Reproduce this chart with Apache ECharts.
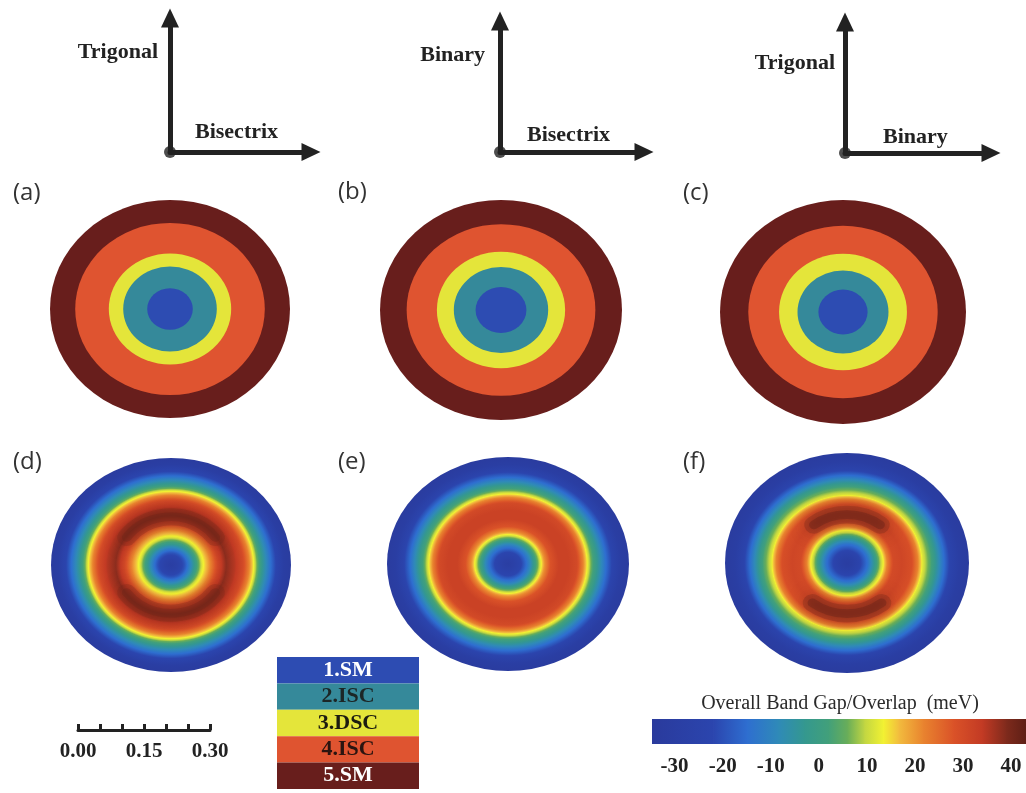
<!DOCTYPE html>
<html><head><meta charset="utf-8">
<script src="https://cdn.jsdelivr.net/npm/echarts@6/dist/echarts.min.js"></script>
<style>html,body{margin:0;padding:0;background:#fff}#c{width:1026px;height:793px}</style>
</head><body><div id="c"></div>
<script>
// ================= DATA =================
const CLASS_LABELS = ['1.SM', '2.ISC', '3.DSC', '4.ISC', '5.SM'];
const CLASS_COLORS = ['#2d4cb2', '#35899a', '#e4e53a', '#df5430', '#681e1c'];
const CLASS_TEXT   = ['#ffffff', '#1c2626', '#1c1c10', '#2a1410', '#ffffff'];

// top row: [outer radius (fraction of disc radius), class index]
const RINGS_A = [[1.00, 5], [0.79, 4], [0.51, 3], [0.39, 2], [0.19, 1]];
const RINGS_B = [[1.00, 5], [0.78, 4], [0.53, 3], [0.39, 2], [0.21, 1]];
const RINGS_C = [[1.00, 5], [0.77, 4], [0.52, 3], [0.37, 2], [0.20, 1]];

// bottom row radial profiles: [radius fraction, band gap/overlap (meV)], outer -> inner
const PROFILE_D = [[1.00,-33],[0.94,-30],[0.88,-23],[0.82,-13],[0.76,-3],[0.72,5],[0.69,13],[0.65,22],[0.60,30],[0.53,35],[0.46,38],[0.39,31],[0.33,22],[0.29,16],[0.26,12],[0.22,3],[0.17,-8],[0.11,-20],[0.05,-27],[0.00,-30]];
const PROFILE_E = [[1.00,-33],[0.93,-30],[0.87,-24],[0.81,-15],[0.75,-5],[0.70,3],[0.66,12],[0.62,22],[0.57,30],[0.50,32],[0.42,32],[0.35,28],[0.30,20],[0.27,12],[0.23,2],[0.18,-10],[0.11,-22],[0.04,-28],[0.00,-30]];
const PROFILE_F = [[1.00,-33],[0.92,-30],[0.85,-24],[0.79,-14],[0.73,-4],[0.68,4],[0.62,12],[0.58,22],[0.53,29],[0.45,31],[0.38,30],[0.33,22],[0.30,14],[0.27,8],[0.23,-2],[0.17,-14],[0.10,-24],[0.04,-29],[0.00,-31]];

// darker (higher-overlap) arcs: [start angle deg, end angle deg, radius fraction, value]
const HOT_D = [[35, 145, 0.45, 41], [215, 325, 0.45, 41]];
const HOT_F = [[52, 128, 0.44, 43], [232, 308, 0.46, 43]];

// colour bar
const CB_VALUES = [-35, -22, -15, -8.5, -3, 2, 6, 9.5, 13.4, 16.6, 21.5, 28, 34, 39, 44];
const CB_COLORS = ['#2a3a9c', '#2b45ae', '#2e6ed0', '#2f8ab8', '#34988f', '#42a07a', '#6aae58', '#c2d642', '#f2f232', '#f2bc3e', '#e9852f', '#da5228', '#c23a24', '#7e2a1c', '#561c14'];
const CB_TICKS = [-30, -20, -10, 0, 10, 20, 30, 40];
const CB_TITLE = 'Overall Band Gap/Overlap  (meV)';

// scale bar
const SCALE_MIN = 0, SCALE_MAX = 0.30, SCALE_STEP = 0.05, SCALE_LABEL_STEP = 0.15;

// axis diagrams
const DIAGRAM_LABELS = [['Trigonal', 'Bisectrix'], ['Binary', 'Bisectrix'], ['Trigonal', 'Binary']];
const PANEL_LABELS = ['(a)', '(b)', '(c)', '(d)', '(e)', '(f)'];

// ================= LAYOUT =================
const DISCS = [ // cx, cy, rx, ry
  [170, 309, 120, 109], [501, 310, 121, 110], [843, 312, 123, 112],
  [171, 565, 120, 107], [508, 564, 121, 107], [847, 563, 122, 110]
];
const PANEL_POS = [[13, 193], [338, 192], [683, 193], [13, 462], [338, 462], [683, 462]];
const DIAGRAMS = [ // origin x, origin y, axis end top y, axis end right x
  [170, 152, 18, 311], [500, 152, 21, 644], [845, 153, 22, 991]
];
const DIAGRAM_TEXT = [ // [vertical label right x, y], [horizontal label left x, y]
  [[158, 52], [195, 132]], [[485, 55], [527, 135]], [[835, 63], [883, 137]]
];

const SERIF = 'Liberation Serif';

// ================= HELPERS =================
function hexToRgb(h) { const n = parseInt(h.slice(1), 16); return [(n >> 16) & 255, (n >> 8) & 255, n & 255]; }
const CB_RGB = CB_COLORS.map(hexToRgb);
function rgbStr(a) { return 'rgb(' + a.map(v => Math.round(v)).join(',') + ')'; }
function cmap(v) {
  if (v <= CB_VALUES[0]) return rgbStr(CB_RGB[0]);
  for (let i = 0; i < CB_VALUES.length - 1; i++) {
    if (v <= CB_VALUES[i + 1]) {
      const t = (v - CB_VALUES[i]) / (CB_VALUES[i + 1] - CB_VALUES[i]);
      return rgbStr(CB_RGB[i].map((c, k) => c + (CB_RGB[i + 1][k] - c) * t));
    }
  }
  return rgbStr(CB_RGB[CB_RGB.length - 1]);
}
function profileStops(rn, vn, ro, vo) {
  const stops = [{ offset: rn / ro, color: cmap(vn) }];
  const lo = Math.min(vn, vo), hi = Math.max(vn, vo);
  const mids = CB_VALUES.filter(x => x > lo && x < hi)
    .map(x => ({ offset: (rn + (ro - rn) * (x - vn) / (vo - vn)) / ro, color: cmap(x) }));
  mids.sort((a, b) => a.offset - b.offset);
  return stops.concat(mids, [{ offset: 1, color: cmap(vo) }]);
}
function discFrame(api) {
  const c = api.coord([0, 0]);
  const rx = api.size([1, 0])[0], ry = api.size([0, 1])[1];
  return { c, rx, ry };
}

function ringSeries(rings, gi) {
  return {
    type: 'custom', coordinateSystem: 'cartesian2d', xAxisIndex: gi, yAxisIndex: gi,
    data: rings, silent: true,
    renderItem(params, api) {
      const f = discFrame(api);
      return {
        type: 'circle', shape: { cx: f.c[0], cy: f.c[1], r: api.value(0) * f.rx },
        originX: f.c[0], originY: f.c[1], scaleY: f.ry / f.rx,
        style: { fill: CLASS_COLORS[api.value(1) - 1] }
      };
    }
  };
}
function profileSeries(profile, gi) {
  return {
    type: 'custom', coordinateSystem: 'cartesian2d', xAxisIndex: gi, yAxisIndex: gi,
    data: profile, silent: true,
    renderItem(params, api) {
      const i = params.dataIndex;
      if (i >= profile.length - 1) return null;
      const ro = api.value(0), vo = api.value(1);
      const rn = profile[i + 1][0], vn = profile[i + 1][1];
      const f = discFrame(api);
      const R = ro * f.rx;
      return {
        type: 'circle', shape: { cx: f.c[0], cy: f.c[1], r: R },
        originX: f.c[0], originY: f.c[1], scaleY: f.ry / f.rx,
        style: { fill: new echarts.graphic.RadialGradient(f.c[0], f.c[1], R, profileStops(rn, vn, ro, vo), true) }
      };
    }
  };
}
function hotSeries(hot, gi) {
  return {
    type: 'custom', coordinateSystem: 'cartesian2d', xAxisIndex: gi, yAxisIndex: gi,
    data: hot, silent: true,
    renderItem(params, api) {
      const f = discFrame(api);
      const s = api.value(0), e = api.value(1), r = api.value(2) * f.rx, col = cmap(api.value(3));
      const shape = { cx: f.c[0], cy: f.c[1], r: r, startAngle: -e * Math.PI / 180, endAngle: -s * Math.PI / 180, clockwise: true };
      const base = { type: 'arc', shape: shape, originX: f.c[0], originY: f.c[1], scaleY: f.ry / f.rx };
      return {
        type: 'group',
        children: [
          Object.assign({}, base, { style: { stroke: col, fill: null, lineWidth: 0.16 * f.rx, lineCap: 'round', opacity: 0.25, shadowBlur: 16, shadowColor: col } }),
          Object.assign({}, base, { style: { stroke: col, fill: null, lineWidth: 0.08 * f.rx, lineCap: 'round', opacity: 0.35, shadowBlur: 10, shadowColor: col } })
        ]
      };
    }
  };
}

// ================= GRIDS / AXES =================
const grids = [], xAxes = [], yAxes = [], series = [];
function hiddenAxes(xmin, xmax, ymin, ymax) {
  const gi = grids.length - 1;
  xAxes.push({ gridIndex: gi, type: 'value', min: xmin, max: xmax, show: false });
  yAxes.push({ gridIndex: gi, type: 'value', min: ymin, max: ymax, show: false });
  return gi;
}
// discs 0..5
DISCS.forEach(d => { grids.push({ left: d[0] - d[2], top: d[1] - d[3], width: 2 * d[2], height: 2 * d[3] }); hiddenAxes(-1, 1, -1, 1); });
series.push(ringSeries(RINGS_A, 0), ringSeries(RINGS_B, 1), ringSeries(RINGS_C, 2));
series.push(profileSeries(PROFILE_D, 3), profileSeries(PROFILE_E, 4), profileSeries(PROFILE_F, 5));
series.push(hotSeries(HOT_D, 3), hotSeries(HOT_F, 5));

// axis diagrams 6..8
const arrowLine = {
  show: true, onZero: true, symbol: ['none', 'triangle'], symbolSize: [18, 19],
  lineStyle: { color: '#222', width: 5 }
};
DIAGRAMS.forEach(d => {
  grids.push({ left: d[0], top: d[2], width: d[3] - d[0], height: d[1] - d[2] });
  const gi = grids.length - 1;
  xAxes.push({ gridIndex: gi, type: 'value', min: 0, max: 1, axisLine: arrowLine, axisTick: { show: false }, axisLabel: { show: false }, splitLine: { show: false } });
  yAxes.push({ gridIndex: gi, type: 'value', min: 0, max: 1, axisLine: arrowLine, axisTick: { show: false }, axisLabel: { show: false }, splitLine: { show: false } });
  series.push({ type: 'scatter', xAxisIndex: gi, yAxisIndex: gi, data: [[0, 0]], symbolSize: 12, itemStyle: { color: '#222' }, silent: true, z: 5 });
});

// scale bar 9
grids.push({ left: 78, top: 690, width: 132, height: 40 });
{
  const gi = grids.length - 1;
  xAxes.push({
    gridIndex: gi, type: 'value', min: SCALE_MIN, max: SCALE_MAX, interval: SCALE_STEP,
    axisLine: { show: true, lineStyle: { color: '#222', width: 3 } },
    axisTick: { show: true, inside: true, length: 6, lineStyle: { color: '#222', width: 3 } },
    splitLine: { show: false },
    axisLabel: {
      show: true, margin: 11, showMinLabel: true, showMaxLabel: true,
      fontFamily: SERIF, fontWeight: 'bold', fontSize: 21, color: '#222',
      formatter: v => (Math.round(v * 100) % Math.round(SCALE_LABEL_STEP * 100) === 0 ? v.toFixed(2) : '')
    }
  });
  yAxes.push({ gridIndex: gi, type: 'value', min: 0, max: 1, show: false });
}

// colour bar 10
grids.push({ left: 652, top: 719, width: 380, height: 25 });
{
  const gi = grids.length - 1;
  xAxes.push({
    gridIndex: gi, type: 'value', min: -34.7, max: 43.1,
    axisLine: { show: false }, axisTick: { show: false }, splitLine: { show: false },
    axisLabel: { show: true, customValues: CB_TICKS, margin: 12, fontFamily: SERIF, fontWeight: 'bold', fontSize: 21, color: '#222' }
  });
  yAxes.push({ gridIndex: gi, type: 'value', min: 0, max: 1, show: false });
  series.push({
    type: 'custom', coordinateSystem: 'cartesian2d', xAxisIndex: gi, yAxisIndex: gi, clip: true, silent: true,
    data: CB_VALUES.map(v => [v, 0.5]),
    renderItem(params, api) {
      const i = params.dataIndex;
      if (i >= CB_VALUES.length - 1) return null;
      const p0 = api.coord([CB_VALUES[i], 1]), p1 = api.coord([CB_VALUES[i + 1], 0]);
      return {
        type: 'rect', shape: { x: p0[0], y: p0[1], width: p1[0] - p0[0] + 0.8, height: p1[1] - p0[1] },
        style: { fill: new echarts.graphic.LinearGradient(0, 0, 1, 0, [{ offset: 0, color: CB_COLORS[i] }, { offset: 1, color: CB_COLORS[i + 1] }]) }
      };
    }
  });
}

// class legend 11
grids.push({ left: 277, top: 657, width: 142, height: 132 });
{
  const gi = grids.length - 1;
  xAxes.push({ gridIndex: gi, type: 'value', min: 0, max: 1, show: false });
  yAxes.push({ gridIndex: gi, type: 'category', data: CLASS_LABELS, inverse: true, show: false });
  series.push({
    type: 'bar', xAxisIndex: gi, yAxisIndex: gi, barCategoryGap: '0%', silent: true,
    data: CLASS_LABELS.map((l, i) => ({ value: 1, itemStyle: { color: CLASS_COLORS[i] }, label: { color: CLASS_TEXT[i] } })),
    label: { show: true, position: 'inside', formatter: '{b}', fontFamily: SERIF, fontWeight: 'bold', fontSize: 22 }
  });
}

// ================= TEXT =================
const graphic = [];
PANEL_LABELS.forEach((t, i) => graphic.push({
  type: 'text', x: PANEL_POS[i][0], y: PANEL_POS[i][1], silent: true,
  style: { text: t, fontFamily: 'Open Sans', fontSize: 24, fill: '#333', textVerticalAlign: 'middle', textAlign: 'left' }
}));
DIAGRAM_LABELS.forEach((pair, i) => {
  const pv = DIAGRAM_TEXT[i][0], ph = DIAGRAM_TEXT[i][1];
  graphic.push({ type: 'text', x: pv[0], y: pv[1], silent: true,
    style: { text: pair[0], fontFamily: SERIF, fontWeight: 'bold', fontSize: 22, fill: '#222', textAlign: 'right', textVerticalAlign: 'middle' } });
  graphic.push({ type: 'text', x: ph[0], y: ph[1], silent: true,
    style: { text: pair[1], fontFamily: SERIF, fontWeight: 'bold', fontSize: 22, fill: '#222', textAlign: 'left', textVerticalAlign: 'middle' } });
});
graphic.push({ type: 'text', x: 840, y: 704, silent: true,
  style: { text: CB_TITLE, fontFamily: SERIF, fontSize: 20, fill: '#2a2a2a', textAlign: 'center', textVerticalAlign: 'middle' } });

const chart = echarts.init(document.getElementById('c'), null, { renderer: 'canvas' });
chart.setOption({
  backgroundColor: '#ffffff',
  animation: false,
  grid: grids, xAxis: xAxes, yAxis: yAxes, series: series, graphic: graphic
});
</script></body></html>
